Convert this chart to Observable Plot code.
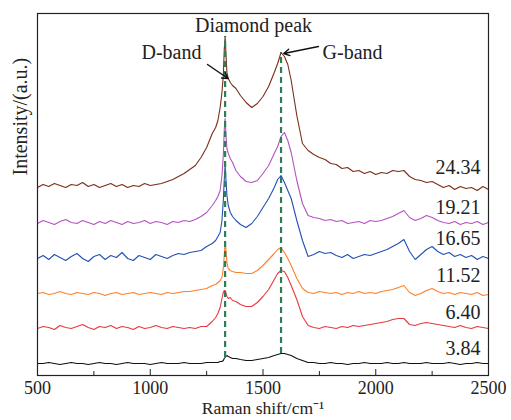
<!DOCTYPE html>
<html>
<head>
<meta charset="utf-8">
<script src="https://cdn.jsdelivr.net/npm/d3@7"></script>
<script src="https://cdn.jsdelivr.net/npm/@observablehq/plot@0.6"></script>
<style>
  html, body { margin: 0; padding: 0; background: #fff; }
  #chart svg { display: block; }
  #chart svg text { font-family: 'Liberation Serif', 'Times New Roman', serif; }
</style>
</head>
<body>
<div id="chart"></div>
<script>
// Shared Raman shift grid (cm^-1)
const ramanShift = [
  500,525,550,575,600,625,650,675,700,725,750,775,800,825,850,875,900,925,950,975,1000,1025,1050,1075,1100,1125,1150,1175,1200,
  1225,1250,1275,1290,1300,1310,1318,1324,1328,1332,1336,1340,1346,1355,1365,1380,1400,1425,1450,1475,1500,1525,1550,1565,1580,1595,1610,1625,1650,1675,1700,
  1725,1750,1775,1800,1825,1850,1875,1900,1925,1950,1975,2000,2025,2050,2075,2100,2125,2150,2175,2200,2225,2250,2275,2300,2325,2350,2375,2400,2425,2450,2475,2500
];

// Offset intensities (a.u.)
const s2434 = [
  188,191,189,192,190,188,191,190,193,189,191,188,190,192,189,191,188,190,189,192,190,191,192,194,196,199,202,206,210,
  218,228,242,248,255,268,283,300,325,339,320,303,297,293,290,287,280,273,268,272,279,289,303,312,323,319,311,295,260,232,225,
  221,218,216,212,211,207,208,204,205,202,204,201,203,202,205,204,205,199,196,195,193,194,191,188,190,186,189,187,188,185,189,186
];
const s1921 = [
  152,155,153,151,154,156,153,152,155,153,151,154,152,155,153,151,154,152,153,155,152,154,153,151,154,153,155,154,156,
  159,163,170,175,179,185,200,220,245,257,240,227,222,217,213,205,199,194,193,195,202,210,222,229,239,243,235,223,195,172,160,
  158,157,155,156,154,155,152,153,154,152,155,154,155,157,159,162,165,158,155,157,160,158,155,153,152,154,151,153,152,154,151,153
];
const s1665 = [
  117,120,116,121,118,115,119,122,117,114,119,121,116,120,118,123,117,115,120,118,116,121,119,117,120,122,121,123,124,
  125,129,132,135,139,143,155,175,195,210,195,180,170,163,159,155,151,148,152,159,168,177,188,196,200,193,185,177,155,135,119,
  121,124,122,123,120,118,121,117,119,121,120,122,124,126,129,132,136,124,116,121,126,129,124,121,123,119,121,118,120,116,119,117
];
const s1152 = [
  82,83,81,82,84,82,81,83,82,81,83,82,80,82,83,81,82,83,81,82,83,82,81,83,82,83,84,84,85,
  86,87,90,91,93,95,98,107,120,133,125,113,107,105,104,103,103,102,102,105,110,116,122,126,128,123,117,110,97,87,83,
  82,84,83,82,83,81,83,82,84,82,83,82,84,85,86,88,90,83,80,82,85,87,84,82,83,81,83,82,81,83,80,81
];
const s640 = [
  47,49,48,46,50,48,47,49,51,48,46,49,48,50,47,49,48,46,49,47,48,50,48,47,49,48,47,48,47,
  49,49,54,58,62,68,77,83,85,85,82,79,77,78,75,74,71,69,69,73,79,86,96,102,105,104,98,90,76,59,50,
  48,47,49,48,47,49,48,50,49,50,51,52,53,54,56,57,57,51,50,52,53,52,51,50,49,48,50,48,47,49,48,47
];
const s384 = [
  12,12,13,12,11,12,13,12,12,11,12,13,12,12,11,12,13,12,12,12,11,12,13,12,12,12,13,12,12,
  12,13,13,13,13,14,14,15,17,18,19,20,19,18,17,17,16,15,15,16,17,18,20,21,22,22,21,20,17,15,13,
  13,12,12,13,12,12,11,12,12,13,12,12,12,13,12,12,13,12,12,12,13,12,12,12,13,12,11,12,12,13,12,12
];

const seriesNames = ["3.84","6.40","11.52","16.65","19.21","24.34"];
const seriesValues = [s384, s640, s1152, s1665, s1921, s2434];
const seriesColors = ["#111111","#e8383f","#ff7f2a","#2150b4","#b452c0","#7a2e1a"];

// right-hand labels
const labelX = [2465,2465,2465,2465,2465,2465];
const labelY = [27,63,100,137,168,208];

// dashed reference lines (diamond/D and G positions)
const peakX = [1332, 1580];
const peakLow = [18, 22];
const peakHigh = [339, 323];

// annotations
const annText = ["Diamond peak","D-band","G-band"];
const annX = [1458, 1094, 1897];
const annY = [350, 323, 323];
const arrowX1 = [1254, 1746];
const arrowY1 = [311, 329];
const arrowX2 = [1345, 1592];
const arrowY2 = [297, 322];

const xTicks = [500,1000,1500,2000,2500];
const xMinor = [750,1250,1750,2250];

const rows = [];
seriesNames.forEach((name, i) => {
  ramanShift.forEach((x, j) => rows.push({series: name, x, y: seriesValues[i][j]}));
});
const labels = seriesNames.map((n, i) => ({text: n, x: labelX[i], y: labelY[i]}));
const rules = peakX.map((x, i) => ({x, y1: peakLow[i], y2: peakHigh[i]}));
const anns = annText.map((t, i) => ({text: t, x: annX[i], y: annY[i]}));
const arrows = arrowX1.map((x1, i) => ({x1, y1: arrowY1[i], x2: arrowX2[i], y2: arrowY2[i]}));

const font = "'Liberation Serif', 'Times New Roman', serif";

const chart = Plot.plot({
  width: 511,
  height: 420,
  marginLeft: 37,
  marginRight: 23,
  marginTop: 13,
  marginBottom: 45,
  style: {fontFamily: font, fontSize: "20px", color: "#222", background: "#fff"},
  x: {domain: [500, 2500], axis: null},
  y: {domain: [0, 362], axis: null},
  color: {domain: seriesNames, range: seriesColors},
  marks: [
    Plot.line(rows, {x: "x", y: "y", z: "series", stroke: "series", strokeWidth: 1.1}),
    Plot.ruleX(rules, {x: "x", y1: "y1", y2: "y2", stroke: "#2e7d57", strokeWidth: 2.2, strokeDasharray: "6,4"}),
    Plot.text(labels, {x: "x", y: "y", text: "text", textAnchor: "end", fontSize: 20, fill: "#222", fontFamily: font}),
    Plot.text(anns, {x: "x", y: "y", text: "text", fontSize: 20, fill: "#222", fontFamily: font}),
    Plot.arrow(arrows, {x1: "x1", y1: "y1", x2: "x2", y2: "y2", stroke: "#111", strokeWidth: 1.4, headLength: 7, bend: 0}),
    Plot.frame({stroke: "#222", strokeWidth: 1.2}),
    Plot.axisX({ticks: xTicks, tickSize: 0, tickPadding: 6, fontSize: 18, fontFamily: font, tickFormat: d3.format("d"), label: null}),
    Plot.axisX({ticks: xTicks, tickSize: -6, tickFormat: () => "", label: null}),
    Plot.axisX({ticks: xMinor, tickSize: -4, tickFormat: () => "", label: null}),
    Plot.text(["Raman shift/cm⁻¹"], {frameAnchor: "bottom", dy: 38, fontSize: 17.5, fill: "#222", fontFamily: font}),
    Plot.text(["Intensity/(a.u.)"], {frameAnchor: "left", dx: -17, dy: -19, rotate: -90, fontSize: 20, fill: "#222", fontFamily: font})
  ]
});
document.getElementById("chart").appendChild(chart);
</script>
</body>
</html>
